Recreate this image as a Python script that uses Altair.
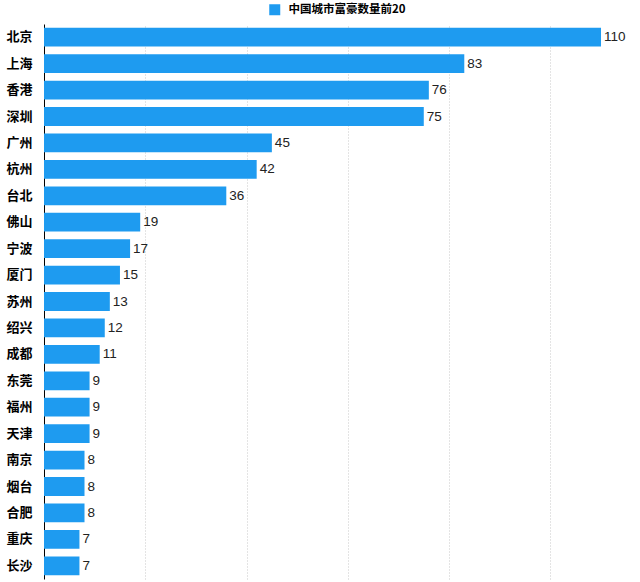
import altair as alt
import pandas as pd

cities = ["北京", "上海", "香港", "深圳", "广州", "杭州", "台北", "佛山", "宁波", "厦门",
          "苏州", "绍兴", "成都", "东莞", "福州", "天津", "南京", "烟台", "合肥", "重庆", "长沙"]
values = [110, 83, 76, 75, 45, 42, 36, 19, 17, 15, 13, 12, 11, 9, 9, 9, 8, 8, 8, 7, 7]
series_name = "中国城市富豪数量前20"
grid_ticks = [20, 40, 60, 80, 100]

df = pd.DataFrame({"city": cities, "value": values, "series": [series_name] * len(cities)})

FONT = "Noto Sans CJK SC"
BLUE = "#1e9bf0"

x_enc = alt.X("value:Q", scale=alt.Scale(domain=[0, 117.7], nice=False),
              axis=alt.Axis(values=grid_ticks, labels=False, ticks=False, domain=False, title=None,
                            grid=True, gridDash=[1, 2], gridColor="#c8c8c8", gridWidth=1))
y_enc = alt.Y("city:N", sort=cities,
              scale=alt.Scale(paddingInner=0.29, paddingOuter=0.145),
              axis=alt.Axis(title=None, ticks=False, domain=True, domainColor="#000000", domainWidth=1,
                            labelFont=FONT, labelFontSize=13, labelFontWeight="bold",
                            labelColor="#000000", labelPadding=12, grid=False))

bars = alt.Chart(df).mark_bar(color=BLUE).encode(
    x=x_enc,
    y=y_enc,
    color=alt.Color("series:N", scale=alt.Scale(range=[BLUE]),
                    legend=alt.Legend(title=None, orient="none", legendX=225, legendY=-20,
                                      symbolType="square", symbolSize=121, symbolStrokeWidth=0,
                                      labelFont=FONT, labelFontSize=11.5, labelFontWeight="bold",
                                      labelColor="#000000", labelOffset=8)),
)

labels = alt.Chart(df).mark_text(align="left", baseline="middle", dx=3, font="Liberation Sans",
                                 fontSize=13.5, color="#222222").encode(
    x=alt.X("value:Q"),
    y=alt.Y("city:N", sort=cities),
    text="value:Q",
)

chart = (bars + labels).properties(
    width=596, height=555,
    autosize=alt.AutoSizeParams(type="none"),
    padding={"left": 44, "top": 24, "right": 0, "bottom": 3},
    background="#ffffff",
).configure_view(stroke=None)

chart.save("out.html", embed_options={"renderer": "svg", "actions": False})
